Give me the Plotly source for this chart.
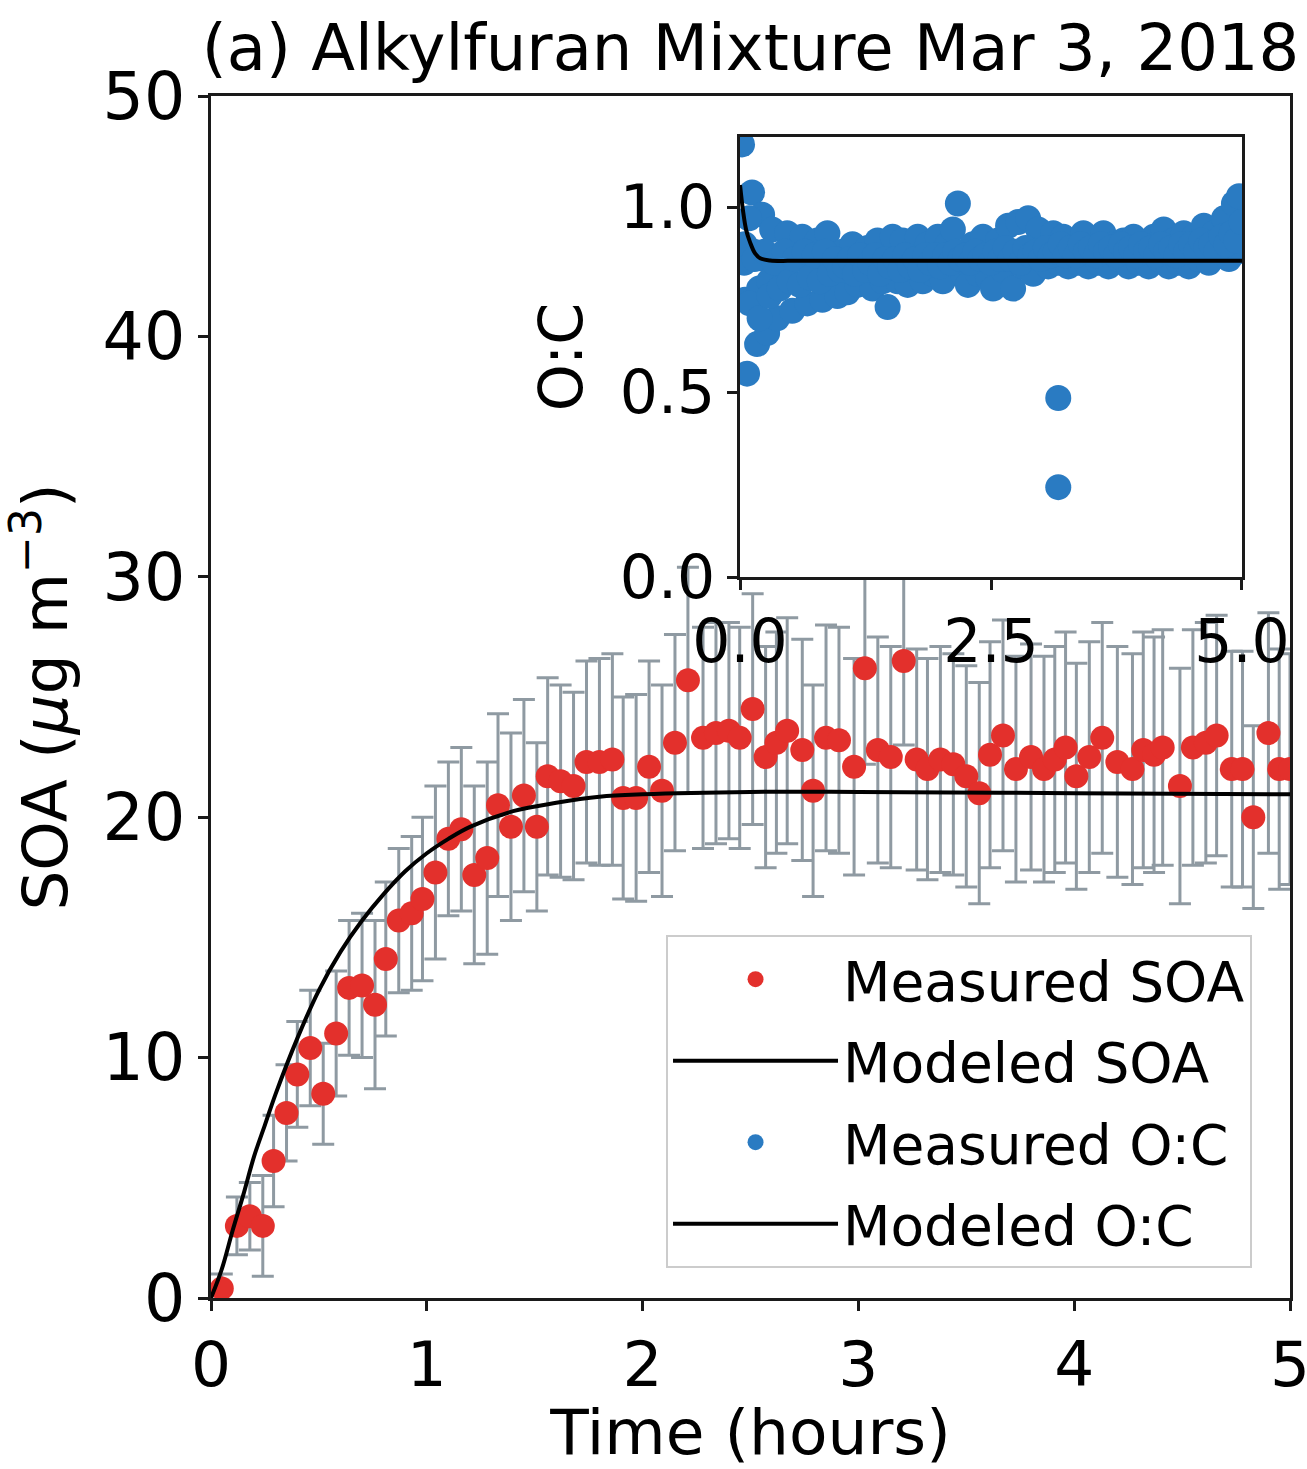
import plotly.graph_objects as go

# ---------------- data ----------------
soa_time = [0.05, 0.12, 0.18, 0.24, 0.29, 0.35, 0.40, 0.46, 0.52, 0.58,
            0.64, 0.70, 0.76, 0.81, 0.87, 0.93, 0.98, 1.04, 1.10, 1.16,
            1.22, 1.28, 1.33, 1.39, 1.45, 1.51, 1.56, 1.62, 1.68, 1.74,
            1.80, 1.86, 1.91, 1.97, 2.03, 2.09, 2.15, 2.21, 2.28, 2.34,
            2.40, 2.45, 2.51, 2.57, 2.62, 2.67, 2.74, 2.79, 2.85, 2.91,
            2.98, 3.03, 3.09, 3.15, 3.21, 3.27, 3.32, 3.38, 3.44, 3.50,
            3.56, 3.61, 3.67, 3.73, 3.80, 3.86, 3.91, 3.96, 4.01, 4.07,
            4.13, 4.20, 4.27, 4.32, 4.37, 4.41, 4.49, 4.55, 4.61, 4.66,
            4.73, 4.78, 4.83, 4.90, 4.95, 5.00]
soa_meas = [0.4, 3.0, 3.4, 3.0, 5.7, 7.7, 9.3, 10.4, 8.5, 11.0,
            12.9, 13.0, 12.2, 14.1, 15.7, 16.0, 16.6, 17.7, 19.1, 19.5,
            17.6, 18.3, 20.5, 19.6, 20.9, 19.6, 21.7, 21.5, 21.3, 22.3,
            22.3, 22.4, 20.8, 20.8, 22.1, 21.1, 23.1, 25.7, 23.3, 23.5,
            23.6, 23.3, 24.5, 22.5, 23.1, 23.6, 22.8, 21.1, 23.3, 23.2,
            22.1, 26.2, 22.8, 22.5, 26.5, 22.4, 22.0, 22.4, 22.2, 21.7,
            21.0, 22.6, 23.4, 22.0, 22.5, 22.0, 22.4, 22.9, 21.7, 22.5,
            23.3, 22.3, 22.0, 22.8, 22.6, 22.9, 21.3, 22.9, 23.1, 23.4,
            22.0, 22.0, 20.0, 23.5, 22.0, 22.0]
soa_err = [0.6, 1.2, 1.4, 2.1, 1.9, 2.0, 2.2, 2.4, 2.1, 2.6,
           2.8, 3.0, 3.5, 3.2, 3.0, 3.2, 3.4, 3.6, 3.2, 3.4,
           3.7, 4.0, 3.8, 3.9, 4.0, 3.5, 4.1, 4.0, 3.9, 4.2,
           4.3, 4.4, 4.2, 4.3, 4.4, 4.4, 4.5, 4.7, 4.6, 4.6,
           4.5, 4.6, 4.8, 4.6, 4.6, 4.7, 4.6, 4.4, 4.7, 4.7,
           4.5, 4.0, 4.7, 4.6, 3.5, 4.6, 4.6, 4.7, 4.6, 4.6,
           4.6, 4.7, 4.8, 4.7, 4.7, 4.7, 4.7, 4.8, 4.7, 4.8,
           4.8, 4.8, 4.8, 4.9, 4.9, 4.9, 4.9, 4.9, 5.0, 5.0,
           4.9, 4.9, 3.8, 5.0, 5.0, 4.8]

model_time = [0.0, 0.05, 0.10, 0.15, 0.20, 0.25, 0.30, 0.40, 0.50, 0.60,
              0.70, 0.80, 0.90, 1.00, 1.10, 1.20, 1.40, 1.60, 1.80, 2.00,
              2.50, 3.00, 4.00, 5.00]
model_soa = [0.0, 1.2, 2.8, 4.3, 5.9, 7.2, 8.5, 10.8, 12.8, 14.4,
             15.7, 16.8, 17.75, 18.5, 19.1, 19.6, 20.25, 20.6, 20.85, 20.95,
             21.05, 21.05, 21.0, 20.95]

oc_time = [0.02, 0.07, 0.12, 0.17, 0.22, 0.27, 0.32, 0.37, 0.42, 0.47,
           0.52, 0.57, 0.62, 0.67, 0.72, 0.77, 0.82, 0.87, 0.92, 0.97,
           1.02, 1.07, 1.12, 1.17, 1.22, 1.27, 1.32, 1.37, 1.42, 1.47,
           1.52, 1.57, 1.62, 1.67, 1.72, 1.77, 1.82, 1.87, 1.92, 1.97,
           2.02, 2.07, 2.12, 2.17, 2.22, 2.27, 2.32, 2.37, 2.42, 2.47,
           2.52, 2.57, 2.62, 2.67, 2.72, 2.77, 2.82, 2.87, 2.92, 2.97,
           3.02, 3.07, 3.12, 3.17, 3.22, 3.27, 3.32, 3.37, 3.42, 3.47,
           3.52, 3.57, 3.62, 3.67, 3.72, 3.77, 3.82, 3.87, 3.92, 3.97,
           4.02, 4.07, 4.12, 4.17, 4.22, 4.27, 4.32, 4.37, 4.42, 4.47,
           4.52, 4.57, 4.62, 4.67, 4.72, 4.77, 4.82, 4.87, 4.92, 4.97,
           0.04, 0.09, 0.05, 0.14, 0.19, 0.24, 0.29, 4.95, 4.99,
           3.17, 3.17,
           0.045, 0.095, 0.145, 0.195, 0.245, 0.295, 0.345, 0.395, 0.445, 0.495,
           0.545, 0.595, 0.645, 0.695, 0.745, 0.795, 0.845, 0.895, 0.945, 0.995,
           1.045, 1.095, 1.145, 1.195, 1.245, 1.295, 1.345, 1.395, 1.445, 1.495,
           1.545, 1.595, 1.645, 1.695, 1.745, 1.795, 1.845, 1.895, 1.945, 1.995,
           2.045, 2.095, 2.145, 2.195, 2.245, 2.295, 2.345, 2.395, 2.445, 2.495,
           2.545, 2.595, 2.645, 2.695, 2.745, 2.795, 2.845, 2.895, 2.945, 2.995,
           3.045, 3.095, 3.145, 3.195, 3.245, 3.295, 3.345, 3.395, 3.445, 3.495,
           3.545, 3.595, 3.645, 3.695, 3.745, 3.795, 3.845, 3.895, 3.945, 3.995,
           4.045, 4.095, 4.145, 4.195, 4.245, 4.295, 4.345, 4.395, 4.445, 4.495,
           4.545, 4.595, 4.645, 4.695, 4.745, 4.795, 4.845, 4.895, 4.945, 4.995]
oc_meas = [1.17, 0.55, 1.04, 0.63, 0.98, 0.66, 0.94, 0.70, 0.83, 0.93,
           0.72, 0.86, 0.92, 0.74, 0.85, 0.91, 0.75, 0.93, 0.80, 0.76,
           0.88, 0.77, 0.90, 0.79, 0.86, 0.89, 0.78, 0.91, 0.80, 0.73,
           0.92, 0.80, 0.91, 0.79, 0.88, 0.92, 0.80, 0.90, 0.82, 0.92,
           0.80, 0.90, 0.94, 1.01, 0.82, 0.79, 0.90, 0.82, 0.92, 0.81,
           0.78, 0.91, 0.83, 0.95, 0.78, 0.96, 0.84, 0.97, 0.82, 0.94,
           0.86, 0.84, 0.93, 0.85, 0.92, 0.84, 0.90, 0.85, 0.93, 0.84,
           0.89, 0.85, 0.93, 0.84, 0.90, 0.86, 0.91, 0.84, 0.92, 0.85,
           0.90, 0.84, 0.92, 0.86, 0.94, 0.84, 0.91, 0.85, 0.93, 0.84,
           0.92, 0.86, 0.95, 0.85, 0.93, 0.88, 0.97, 0.86, 1.01, 1.03,
           0.85, 0.97, 0.75, 0.88, 0.78, 0.86, 0.80, 0.88, 0.95,
           0.484, 0.243,
           0.90, 0.74, 0.86, 0.70, 0.88, 0.76, 0.85, 0.78, 0.88, 0.80,
           0.86, 0.79, 0.88, 0.81, 0.87, 0.80, 0.88, 0.82, 0.86, 0.83,
           0.84, 0.86, 0.82, 0.87, 0.83, 0.85, 0.87, 0.82, 0.86, 0.84,
           0.86, 0.83, 0.87, 0.84, 0.86, 0.83, 0.87, 0.85, 0.87, 0.84,
           0.87, 0.85, 0.88, 0.86, 0.87, 0.85, 0.88, 0.86, 0.87, 0.85,
           0.88, 0.86, 0.89, 0.86, 0.88, 0.85, 0.89, 0.87, 0.88, 0.86,
           0.89, 0.87, 0.88, 0.90, 0.87, 0.89, 0.87, 0.90, 0.88, 0.89,
           0.87, 0.90, 0.88, 0.89, 0.87, 0.90, 0.88, 0.89, 0.87, 0.90,
           0.88, 0.89, 0.87, 0.90, 0.88, 0.89, 0.87, 0.90, 0.88, 0.90,
           0.88, 0.91, 0.89, 0.90, 0.88, 0.92, 0.90, 0.93, 0.91, 0.96]

oc_model_time = [0.0, 0.03, 0.06, 0.10, 0.15, 0.20, 0.30, 0.50, 1.0, 2.0, 3.0, 4.0, 5.0]
oc_model = [1.06, 0.99, 0.94, 0.905, 0.875, 0.862, 0.856, 0.855, 0.855, 0.855, 0.855, 0.855, 0.855]

main_yticks = [0, 10, 20, 30, 40, 50]
main_xticks = [0, 1, 2, 3, 4, 5]
inset_ticks_x = [0.0, 2.5, 5.0]
inset_ticks_y = [0.0, 0.5, 1.0]

# ---------------- styling ----------------
RED = "#e3302c"
BLUE = "#2a7bc2"
GRAY = "#8f9aa2"
AXC = "#1a1a1a"
FONT = "DejaVu Sans"

fig = go.Figure()

fig.add_trace(go.Scatter(
    x=soa_time, y=soa_meas, mode="markers", name="Measured SOA",
    legendgroup="g1",
    marker=dict(color=RED, size=24),
    error_y=dict(type="data", array=soa_err, color=GRAY, thickness=3, width=11),
))
fig.add_trace(go.Scatter(
    x=model_time, y=model_soa, mode="lines", name="Modeled SOA",
    legendgroup="g2",
    line=dict(color="black", width=4, shape="spline"),
))
fig.add_trace(go.Scatter(
    x=oc_time, y=oc_meas, mode="markers", name="Measured O:C",
    legendgroup="g3", xaxis="x2", yaxis="y2",
    marker=dict(color=BLUE, size=26),
))
fig.add_trace(go.Scatter(
    x=oc_model_time, y=oc_model, mode="lines", name="Modeled O:C",
    legendgroup="g4", xaxis="x2", yaxis="y2",
    line=dict(color="black", width=4, shape="spline"),
))

axis_common = dict(showgrid=False, zeroline=False, showline=True, mirror=True,
                   linecolor=AXC, linewidth=2.5, ticks="outside", ticklen=10,
                   tickwidth=2.5, tickcolor=AXC, automargin=False,
                   ticklabeloverflow="allow")

fig.update_layout(
    width=1307, height=1469,
    margin=dict(l=211, r=17, t=96, b=171),
    paper_bgcolor="white", plot_bgcolor="white",
    font=dict(family=FONT, size=63, color="black"),
    title=dict(text="(a) Alkylfuran Mixture Mar 3, 2018", x=0.5,
               xanchor="center", xref="paper", y=1 - 48 / 1469, yanchor="middle",
               font=dict(family=FONT, size=64, color="black")),
    xaxis=dict(range=[0, 5], tickvals=main_xticks, domain=[0, 1],
               title=dict(text="Time (hours)", standoff=16,
                          font=dict(family=FONT, size=63)),
               tickfont=dict(size=63), **axis_common),
    yaxis=dict(range=[0, 50], tickvals=main_yticks, domain=[0, 1],
               title=dict(text="SOA (<i>μ</i>g m<sup>−3</sup>)", standoff=22,
                          font=dict(family=FONT, size=63)),
               tickfont=dict(size=65), **axis_common),
    xaxis2=dict(range=[0, 5], tickvals=inset_ticks_x,
                ticktext=["0.0", "2.5", "5.0"],
                domain=[0.4903, 0.9555], anchor="y2",
                tickfont=dict(size=60), **axis_common),
    yaxis2=dict(range=[0, 1.19], tickvals=inset_ticks_y,
                ticktext=["0.0", "0.5", "1.0"],
                domain=[0.5998, 0.9659], anchor="x2",
                title=dict(text="O:C", standoff=18, font=dict(family=FONT, size=60)),
                tickfont=dict(size=60), **axis_common),
    legend=dict(x=0.9648, xanchor="right", y=0.025, yanchor="bottom",
                bgcolor="white", bordercolor="#cccccc", borderwidth=2,
                font=dict(family=FONT, size=55, color="black"),
                traceorder="grouped", tracegroupgap=7, itemwidth=165),
    showlegend=True,
)

fig.write_html("out.html")
